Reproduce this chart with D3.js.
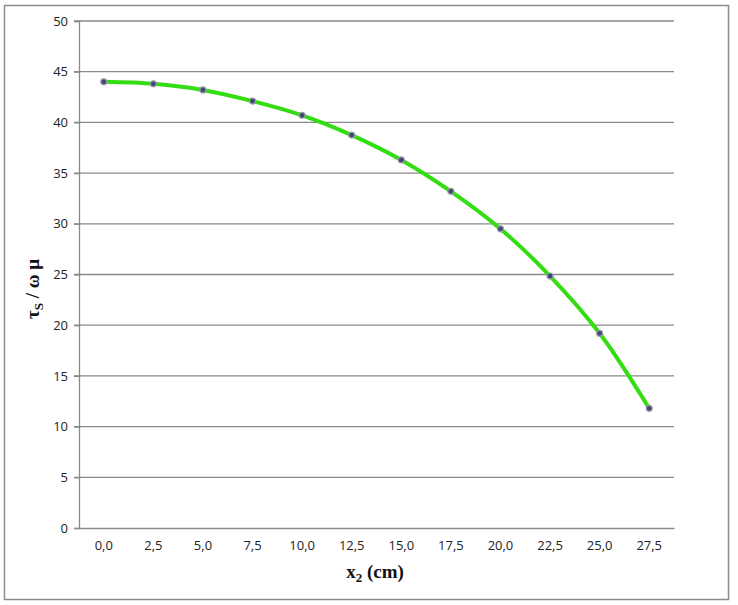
<!DOCTYPE html>
<html><head><meta charset="utf-8">
<script src="https://cdn.jsdelivr.net/npm/d3@7"></script>
<style>body{margin:0;background:#fff;}svg{display:block;}</style>
</head><body>
<script>
const categories = ["0,0","2,5","5,0","7,5","10,0","12,5","15,0","17,5","20,0","22,5","25,0","27,5"];
const values = [44.0, 43.8, 43.2, 42.1, 40.7, 38.75, 36.3, 33.2, 29.5, 24.85, 19.2, 11.8];
const yTicks = [0,5,10,15,20,25,30,35,40,45,50];

const W = 738, H = 605;
const m = {left: 79, right: 674, top: 21, bottom: 528};
const svg = d3.select("body").append("svg").attr("width", W).attr("height", H);

svg.append("rect").attr("x", 4.5).attr("y", 5.5).attr("width", 724).attr("height", 594)
  .attr("fill", "#fff").attr("stroke", "#8c8c8c").attr("stroke-width", 1.5);

const x = d3.scaleBand().domain(categories).range([m.left, m.right]);
const y = d3.scaleLinear().domain([0, 50]).range([m.bottom, m.top]);

// gridlines
svg.append("g").selectAll("line").data(yTicks.filter(d => d > 0)).join("line")
  .attr("x1", m.left - 5).attr("x2", m.right)
  .attr("y1", d => y(d)).attr("y2", d => y(d))
  .attr("stroke", "#8a8a8a").attr("stroke-width", 1.3);

// y axis
const ya = svg.append("g").attr("transform", `translate(${m.left},0)`)
  .call(d3.axisLeft(y).tickValues(yTicks).tickSize(5).tickPadding(6).tickFormat(d3.format("d")));
ya.select(".domain").attr("stroke", "#8a8a8a").attr("stroke-width", 1.3);
ya.selectAll(".tick line").attr("stroke", "#8a8a8a").attr("stroke-width", 1.3);
ya.selectAll("text").attr("font-family", "Open Sans, sans-serif").attr("font-size", 13).attr("fill", "#222");

// x axis
const xa = svg.append("g").attr("transform", `translate(0,${m.bottom})`)
  .call(d3.axisBottom(x).tickSize(0).tickPadding(13));
xa.select(".domain").attr("stroke", "#8a8a8a").attr("stroke-width", 1.3);
xa.selectAll("text").attr("font-family", "Open Sans, sans-serif").attr("font-size", 13).attr("fill", "#222");

// line
const px = (d, i) => x(categories[i]) + x.bandwidth() / 2;
const line = d3.line().x((d, i) => px(d, i)).y(d => y(d)).curve(d3.curveCatmullRom.alpha(0.5));
svg.append("path").datum(values).attr("d", line)
  .attr("fill", "none").attr("stroke", "#33dd11").attr("stroke-width", 4).attr("stroke-linecap", "round");

svg.append("g").selectAll("circle").data(values).join("circle")
  .attr("cx", (d, i) => px(d, i)).attr("cy", d => y(d)).attr("r", 3)
  .attr("fill", "#3e4a72").attr("stroke", "#9a9aa8").attr("stroke-width", 1.2);

// axis titles
const yt = svg.append("text").attr("transform", "translate(39,289) rotate(-90)")
  .attr("text-anchor", "middle").attr("font-family", "Liberation Serif, Times New Roman, serif")
  .attr("font-weight", "bold").attr("font-size", 19).attr("fill", "#111");
yt.append("tspan").text("τ");
yt.append("tspan").attr("font-size", 13).attr("dy", 4).text("S");
yt.append("tspan").attr("dy", -4).text(" / ω μ");

const xt = svg.append("text").attr("x", 375).attr("y", 578)
  .attr("text-anchor", "middle").attr("font-family", "Liberation Serif, Times New Roman, serif")
  .attr("font-weight", "bold").attr("font-size", 19).attr("fill", "#111");
xt.append("tspan").text("x");
xt.append("tspan").attr("font-size", 13).attr("dy", 4).text("2");
xt.append("tspan").attr("dy", -4).text(" (cm)");
</script>
</body></html>
